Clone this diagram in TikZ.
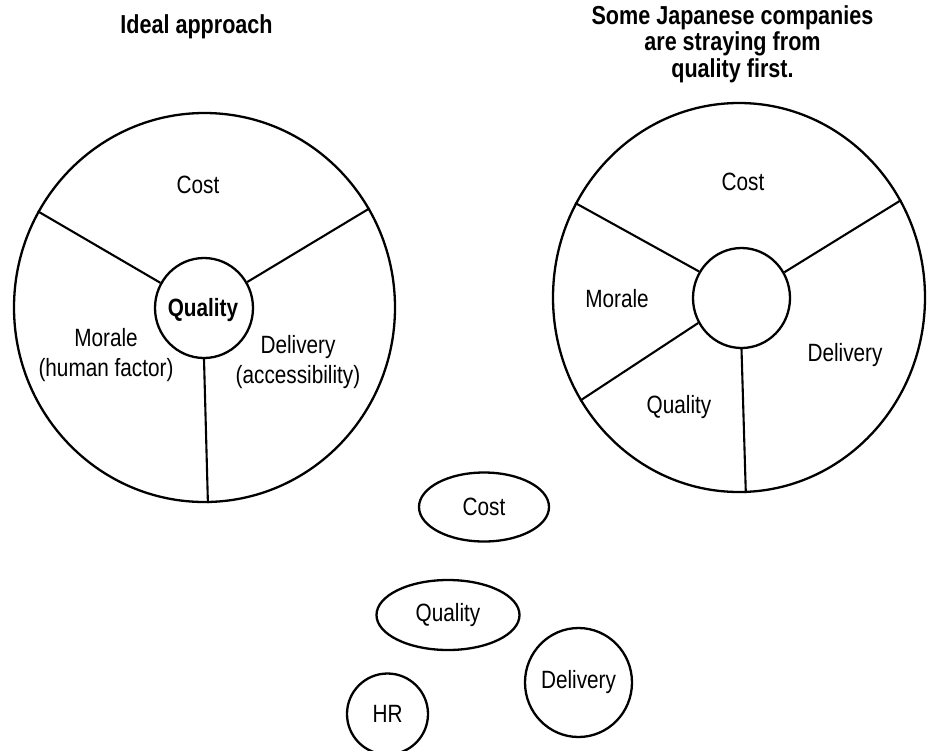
\documentclass[tikz,border=0pt]{standalone}
\usepackage{fontspec}
\setmainfont{Liberation Sans}[FakeStretch=0.83]
\usetikzlibrary{shapes.geometric}

\begin{document}
\begin{tikzpicture}[x=1pt,y=-1pt,
  ring/.style={draw=black, line width=2.3pt, ellipse, inner sep=0pt},
  spoke/.style={black, line width=2.1pt},
  txt/.style={font=\fontsize{25}{30}\selectfont, align=center, inner sep=0pt},
  title/.style={font=\fontsize{26}{26.5}\selectfont\bfseries, align=center, inner sep=0pt}]
\useasboundingbox (0,0) rectangle (928,750);
% Titles
\node[title] (tL) at (196.5,27) {Ideal approach};
\node[title] (tR) at (732.5,44) {Some Japanese companies\\are straying from\\quality first.};
% Circles
\node[ring, minimum width=381pt, minimum height=389pt] (outL) at (204.5,307.5) {};
\node[ring, minimum width=98pt, minimum height=100pt] (inL) at (204,308) {};
\node[ring, minimum width=372pt, minimum height=389pt] (outR) at (739,297.5) {};
\node[ring, minimum width=97pt, minimum height=100pt] (inR) at (741.5,298) {};
% Spokes
\draw[spoke] (inL.150) -- (outL.150);
\draw[spoke] (inL.31) -- (outL.31);
\draw[spoke] (inL.270) -- (outL.271);
\draw[spoke] (inR.148) -- (outR.150);
\draw[spoke] (inR.31) -- (outR.31);
\draw[spoke] (inR.210) -- (outR.213);
\draw[spoke] (inR.270) -- (outR.272);
% Labels
\node[txt] (costL) at (198,185) {Cost};
\node[txt, font=\fontsize{25}{30}\selectfont\bfseries] (qualL) at (203,310) {Quality};
\node[txt] (morL) at (106,355) {Morale\\(human factor)};
\node[txt] (delL) at (298,362) {Delivery\\(accessibility)};
\node[txt] (costR) at (743,182) {Cost};
\node[txt] (morR) at (617,299) {Morale};
\node[txt] (delR) at (845,355) {Delivery};
\node[txt] (qualR) at (679,407) {Quality};
% Loose items
\node[ring, txt, minimum width=130pt, minimum height=69pt] (cost) at (484,507) {Cost};
\node[ring, txt, minimum width=143pt, minimum height=70pt] (qual) at (448,615) {Quality};
\node[ring, txt, minimum width=81pt, minimum height=81pt] (hr) at (387.5,714) {HR};
\node[ring, txt, minimum width=107pt, minimum height=109pt] (del) at (578.5,682.5) {Delivery};
\end{tikzpicture}
\end{document}
